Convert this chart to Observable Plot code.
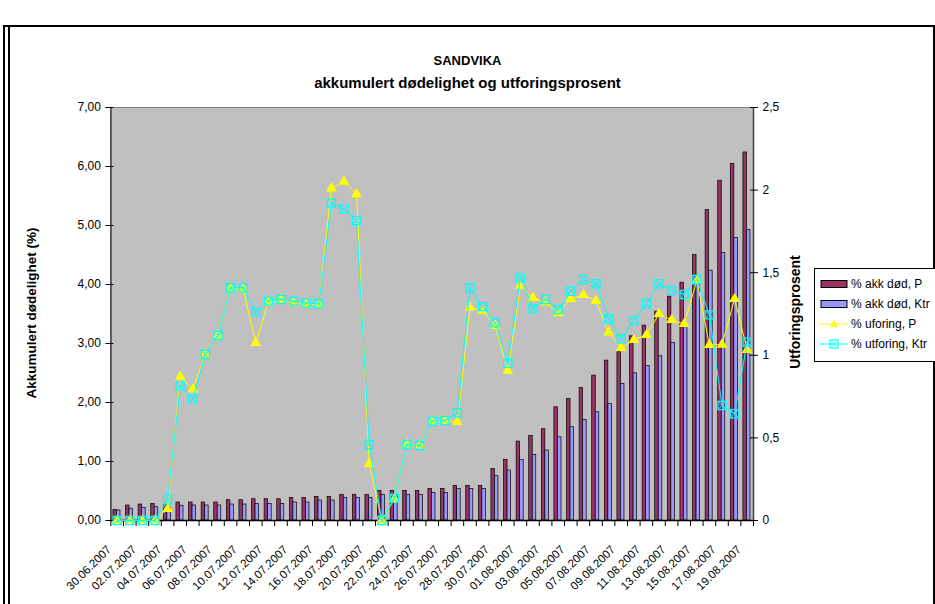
<!DOCTYPE html>
<html><head><meta charset="utf-8">
<script src="https://cdn.jsdelivr.net/npm/d3@7"></script>
<script src="https://cdn.jsdelivr.net/npm/@observablehq/plot@0.6"></script>
<style>
body{margin:0;background:#fff;font-family:"Liberation Sans",Arial,sans-serif;}
#wrap{position:relative;width:935px;height:604px;overflow:hidden;background:#fff;}
#wrap svg{position:absolute;left:0;top:0;}
.frame1{position:absolute;left:3px;top:25px;width:928px;height:600px;border:2px solid #000;}
.frame2{position:absolute;left:8px;top:25px;width:0;height:600px;border-left:2px solid #000;}
.title{position:absolute;left:0;width:935px;text-align:center;font-weight:bold;color:#000;}
.ytitle{position:absolute;font-weight:bold;white-space:nowrap;transform:translate(-50%,-50%) rotate(-90deg);}
#legend{position:absolute;left:814px;top:268px;width:120px;height:92px;border:1px solid #000;background:#fff;font-size:12px;}
.row{position:absolute;left:5px;height:14px;display:flex;align-items:center;white-space:nowrap;}
.row svg{position:static !important;margin-right:3px;}
</style></head>
<body><div id="wrap">
<div class="frame1"></div><div class="frame2"></div>
<div class="title" style="top:53px;font-size:13px">SANDVIKA</div>
<div class="title" style="top:74px;font-size:15px">akkumulert dødelighet og utforingsprosent</div>
<div class="ytitle" style="left:31px;top:313px;font-size:13.5px">Akkumulert dødelighet (%)</div>
<div class="ytitle" style="left:795px;top:312px;font-size:14px">Utforingsprosent</div>
<div id="legend"></div>
</div>
<script>
const dates = ["30.06.2007","01.07.2007","02.07.2007","03.07.2007","04.07.2007","05.07.2007","06.07.2007","07.07.2007","08.07.2007","09.07.2007","10.07.2007","11.07.2007","12.07.2007","13.07.2007","14.07.2007","15.07.2007","16.07.2007","17.07.2007","18.07.2007","19.07.2007","20.07.2007","21.07.2007","22.07.2007","23.07.2007","24.07.2007","25.07.2007","26.07.2007","27.07.2007","28.07.2007","29.07.2007","30.07.2007","31.07.2007","01.08.2007","02.08.2007","03.08.2007","04.08.2007","05.08.2007","06.08.2007","07.08.2007","08.08.2007","09.08.2007","10.08.2007","11.08.2007","12.08.2007","13.08.2007","14.08.2007","15.08.2007","16.08.2007","17.08.2007","18.08.2007","19.08.2007"];

const akkDodP = [0.18,0.254,0.271,0.28,0.26,0.305,0.305,0.305,0.305,0.344,0.344,0.361,0.361,0.361,0.384,0.384,0.40,0.40,0.435,0.435,0.435,0.502,0.502,0.502,0.502,0.536,0.536,0.587,0.587,0.587,0.875,1.028,1.338,1.434,1.547,1.919,2.061,2.247,2.456,2.71,2.851,3.122,3.303,3.54,3.794,4.031,4.50,5.262,5.759,6.042,6.238];
const akkDodKtr = [0.17,0.20,0.215,0.225,0.22,0.25,0.254,0.254,0.254,0.271,0.271,0.282,0.282,0.282,0.305,0.305,0.339,0.339,0.384,0.384,0.384,0.435,0.435,0.435,0.435,0.468,0.468,0.536,0.536,0.536,0.751,0.847,1.028,1.112,1.186,1.411,1.581,1.705,1.835,1.976,2.315,2.495,2.62,2.783,3.01,3.303,4.026,4.234,4.534,4.788,4.924];
const uforingP = [0,0,0,0,0.07,0.871,0.793,1.005,1.12,1.403,1.399,1.075,1.321,1.338,1.318,1.307,1.307,2.011,2.051,1.976,0.343,0,0.13,0.46,0.454,0.60,0.601,0.597,1.29,1.27,1.18,0.907,1.422,1.347,1.321,1.254,1.341,1.365,1.331,1.139,1.045,1.093,1.123,1.25,1.214,1.19,1.452,1.063,1.065,1.341,1.033];
const utforingKtr = [0,0,0,0,0.125,0.813,0.736,1.005,1.12,1.409,1.409,1.261,1.328,1.338,1.328,1.316,1.312,1.921,1.885,1.816,0.46,0,0.135,0.46,0.454,0.601,0.605,0.652,1.409,1.295,1.197,0.952,1.469,1.281,1.338,1.277,1.388,1.459,1.433,1.221,1.10,1.211,1.312,1.433,1.392,1.368,1.459,1.245,0.696,0.646,1.079];

const leftTicks = [0,1,2,3,4,5,6,7];
const rightTicks = [0,0.5,1,1.5,2,2.5];
const seriesNames = ["% akk død, P","% akk død, Ktr","% uforing, P","% utforing, Ktr"];
const colors = {barP:"#993366", barKtr:"#9999ff", lineP:"#ffff00", lineKtr:"#00ffff", plotBg:"#c0c0c0"};

const k = 7 / 2.5; // right axis -> left axis
const idx = dates.map((d,i)=>i);
const rows = idx.map(i=>({i, date:dates[i], p:akkDodP[i], ktr:akkDodKtr[i], uP:uforingP[i]*k, uK:utforingKtr[i]*k}));
const bounds = d3.range(dates.length+1);
const labelRows = rows.filter(r=>r.i%2===0);
const fmtL = d => d.toFixed(2).replace(".",",");
const fmtR = d => String(Math.round(d/k*10)/10).replace(".",",");

const font = "Liberation Sans, Arial, sans-serif";
const chart = Plot.plot({
  width:935, height:604,
  marginLeft:110.4, marginRight:182, marginTop:107, marginBottom:84,
  x:{type:"linear", domain:[0,dates.length]},
  y:{domain:[0,7]},
  style:{background:"transparent", fontFamily:font, color:"#000"},
  marks:[
    Plot.frame({fill:colors.plotBg, stroke:"#808080"}),
    Plot.rectY(rows,{x1:d=>d.i+0.2, x2:d=>d.i+0.48, y:"p", fill:colors.barP, stroke:"#000", strokeWidth:0.7}),
    Plot.rectY(rows,{x1:d=>d.i+0.48, x2:d=>d.i+0.76, y:"ktr", fill:colors.barKtr, stroke:"#000", strokeWidth:0.7}),
    Plot.ruleX([0],{stroke:"#404040", strokeWidth:1.5}),
    Plot.ruleX([dates.length],{stroke:"#404040", strokeWidth:1.5}),
    Plot.ruleY([0],{stroke:"#000", strokeWidth:1.5}),
    Plot.axisX({ticks:bounds, tickSize:6, tickFormat:()=>"", stroke:"#000", label:null}),
    Plot.axisY({anchor:"left", ticks:leftTicks, tickSize:8, dx:3, tickFormat:()=>"", label:null}),
    Plot.axisY({anchor:"left", ticks:leftTicks, tickSize:0, tickPadding:10, tickFormat:fmtL, fontSize:12, label:null}),
    Plot.axisY({anchor:"right", ticks:rightTicks.map(v=>v*k), tickSize:8, dx:-4, tickFormat:()=>"", label:null}),
    Plot.axisY({anchor:"right", ticks:rightTicks.map(v=>v*k), tickSize:0, tickPadding:9, tickFormat:fmtR, fontSize:12, label:null}),
    Plot.line(rows,{x:d=>d.i+0.5, y:"uP", stroke:colors.lineP, strokeWidth:1}),
    Plot.dot(rows,{x:d=>d.i+0.5, y:"uP", symbol:"triangle", fill:colors.lineP, r:4}),
    Plot.line(rows,{x:d=>d.i+0.5, y:"uK", stroke:colors.lineKtr, strokeWidth:1}),
    Plot.dot(rows,{x:d=>d.i+0.5, y:"uK", symbol:"square", stroke:colors.lineKtr, fill:"none", r:4.6, strokeWidth:1.2}),
    Plot.dot(rows,{x:d=>d.i+0.5, y:"uK", symbol:"times", stroke:colors.lineKtr, r:3.2, strokeWidth:1}),
    Plot.text(labelRows,{x:d=>d.i+0.5, y:()=>0, text:"date", rotate:-45, textAnchor:"end", dx:-8, dy:27, fontSize:11.5, fill:"#000"})
  ]
});
document.getElementById("wrap").appendChild(chart);

// legend
const leg = document.getElementById("legend");
const rowY = [8,28,48,68];
seriesNames.forEach((name,j)=>{
  const r = document.createElement("div");
  r.className = "row"; r.style.top = rowY[j]+"px";
  let sw;
  if(j<2){
    sw = `<svg width="28" height="12"><rect x="1" y="2.5" width="26" height="7" fill="${j===0?colors.barP:colors.barKtr}" stroke="#000" stroke-width="1"/></svg>`;
  } else if(j===2){
    sw = `<svg width="28" height="12"><line x1="0" x2="28" y1="6" y2="6" stroke="${colors.lineP}"/><path d="M14,2 L18,9 L10,9Z" fill="${colors.lineP}"/></svg>`;
  } else {
    sw = `<svg width="28" height="12"><line x1="0" x2="28" y1="6" y2="6" stroke="${colors.lineKtr}"/><rect x="10" y="2" width="8" height="8" fill="none" stroke="${colors.lineKtr}" stroke-width="1.2"/><path d="M11.5,3.5 L16.5,8.5 M16.5,3.5 L11.5,8.5" stroke="${colors.lineKtr}"/></svg>`;
  }
  r.innerHTML = sw + `<span>${name}</span>`;
  leg.appendChild(r);
});
</script>
</body></html>
